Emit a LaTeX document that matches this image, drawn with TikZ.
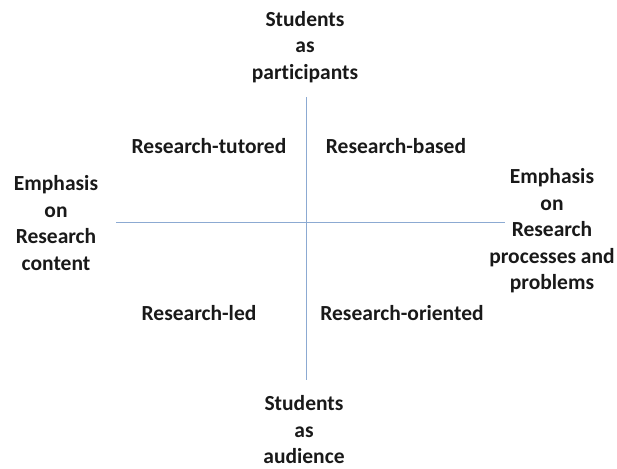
\documentclass[tikz,border=0pt]{standalone}
\usepackage{fontspec}
\setmainfont{Carlito}[Ligatures=NoCommon]
\usepackage{tikz}
\usetikzlibrary{positioning}
\definecolor{axisblue}{RGB}{140,170,210}
\definecolor{labelgray}{RGB}{25,25,25}

\begin{document}
\begin{tikzpicture}[x=1pt,y=-1pt,
    lbl/.style={align=center,inner sep=0pt,text=labelgray,
        font=\fontsize{21.5}{26.5}\selectfont\bfseries},
    axis/.style={axisblue,line width=0.9pt}]
\useasboundingbox (0,0) rectangle (617,468);

% Axes
\coordinate (top) at (306,97);
\coordinate (bottom) at (306,380);
\coordinate (left) at (116,222);
\coordinate (right) at (505,222);
\draw[axis] (top) -- (bottom);
\draw[axis] (left) -- (right);

% Axis ends
\node[lbl] (participants) at (305,47) {Students\\as\\participants};
\node[lbl] (audience) at (304,430) {Students\\as\\audience};
\node[lbl] (content) at (56,223) {Emphasis\\on\\Research\\content};
\node[lbl] (processes) at (552,231) {Emphasis\\on\\Research\\processes and\\problems};

% Quadrants
\node[lbl] (tutored) at (209,146) {Research-tutored};
\node[lbl] (based) at (396,146) {Research-based};
\node[lbl] (led) at (199,313) {Research-led};
\node[lbl] (oriented) at (402,313) {Research-oriented};
\end{tikzpicture}
\end{document}
